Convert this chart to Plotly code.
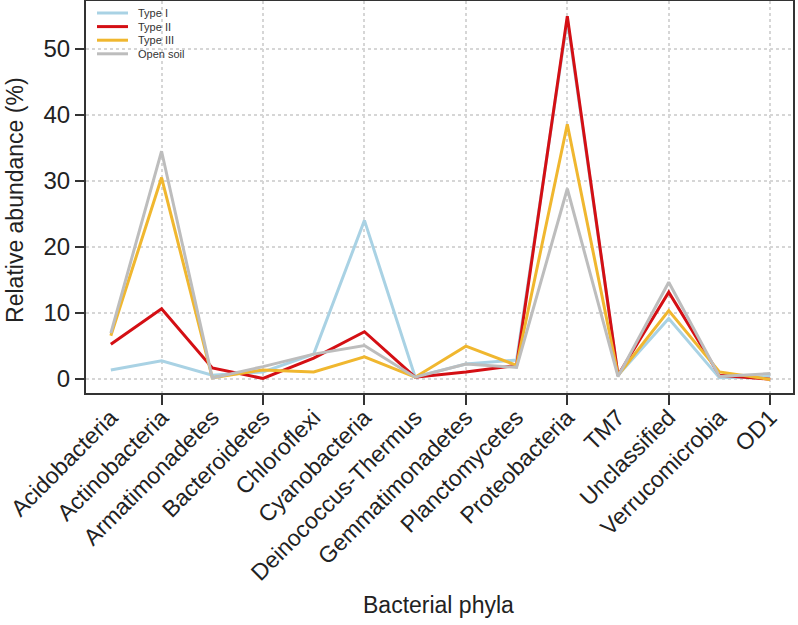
import plotly.graph_objects as go

FONT = "Liberation Sans, Arial, sans-serif"
AXIS = "#333333"
GRID = "#d6d6d6"

phyla = ["Acidobacteria", "Actinobacteria", "Armatimonadetes", "Bacteroidetes",
         "Chloroflexi", "Cyanobacteria", "Deinococcus-Thermus", "Gemmatimonadetes",
         "Planctomycetes", "Proteobacteria", "TM7", "Unclassified",
         "Verrucomicrobia", "OD1"]

type_1 = [1.3, 2.7, 0.5, 1.0, 3.7, 24.0, 0.25, 2.2, 2.8, 54.5, 0.5, 9.1, 0.1, 0.3]
type_2 = [5.2, 10.6, 1.6, 0.0, 3.1, 7.1, 0.2, 1.0, 2.0, 55.0, 0.5, 13.1, 0.5, -0.1]
type_3 = [6.5, 30.5, 0.1, 1.3, 1.0, 3.3, 0.2, 4.9, 2.0, 38.6, 0.5, 10.3, 1.0, -0.15]
open_soil = [6.9, 34.5, 0.1, 1.8, 3.7, 5.0, 0.2, 2.2, 1.7, 28.8, 0.3, 14.6, 0.3, 0.75]

series = [
    ("Type I", type_1, "#a9d2e4"),
    ("Type II", type_2, "#d40f14"),
    ("Type III", type_3, "#f0b72f"),
    ("Open soil", open_soil, "#bdbdbd"),
]

idx = list(range(len(phyla)))

fig = go.Figure()
for name, vals, col in series:
    fig.add_trace(go.Scatter(x=idx, y=vals, name=name, mode="lines",
                             line=dict(color=col, width=3), showlegend=False))

# compact legend drawn by hand (plotly's legend rows are too tall)
plot_w, plot_h = 707, 392
for i, (name, vals, col) in enumerate(series):
    yy = 1 - (12 + 13.6 * i) / plot_h
    fig.add_shape(type="line", xref="paper", yref="paper",
                  x0=11 / plot_w, x1=42 / plot_w, y0=yy, y1=yy,
                  line=dict(color=col, width=3))
    fig.add_annotation(text=name, xref="paper", yref="paper",
                       x=50 / plot_w, y=yy, xanchor="left", yanchor="middle",
                       showarrow=False, font=dict(size=11, color="#333"))

fig.update_layout(
    width=798, height=625,
    margin=dict(l=86, r=5, t=1, b=232),
    paper_bgcolor="white", plot_bgcolor="white",
    font=dict(family=FONT, color="#222222"),
    xaxis=dict(
        range=[-0.49, 13.45], automargin=False,
        tickvals=idx, ticktext=phyla, tickangle=-45,
        ticks="", showgrid=False, zeroline=False,
        tickfont=dict(size=23, color="#222"),
        showline=True, mirror=True, linecolor=AXIS, linewidth=2,
        minor=dict(tickvals=idx[1::2], ticks="outside", ticklen=10,
                   tickcolor=AXIS, tickwidth=2,
                   showgrid=True, gridcolor=GRID, griddash="dot", gridwidth=1.5),
    ),
    yaxis=dict(
        range=[-2.2, 57.3], automargin=False,
        tickvals=[0, 10, 20, 30, 40, 50],
        ticks="outside", ticklen=9, tickcolor=AXIS, tickwidth=2,
        tickfont=dict(size=24, color="#222"),
        showgrid=True, gridcolor=GRID, griddash="dot", gridwidth=1.5,
        zeroline=False,
        showline=True, mirror=True, linecolor=AXIS, linewidth=2,
    ),
    annotations=list(fig.layout.annotations) + [
        dict(text="Relative abundance (%)", xref="paper", yref="paper",
             x=-71 / plot_w, y=0.49, xanchor="center", yanchor="middle",
             textangle=-90, showarrow=False,
             font=dict(size=23, color="#222")),
        dict(text="Bacterial phyla", xref="paper", yref="paper",
             x=0.498, y=-0.541, xanchor="center", yanchor="middle",
             showarrow=False, font=dict(size=23, color="#222")),
    ],
)

fig.write_html("out.html", config={"displayModeBar": False},
               post_script="document.body.style.margin='0';")
